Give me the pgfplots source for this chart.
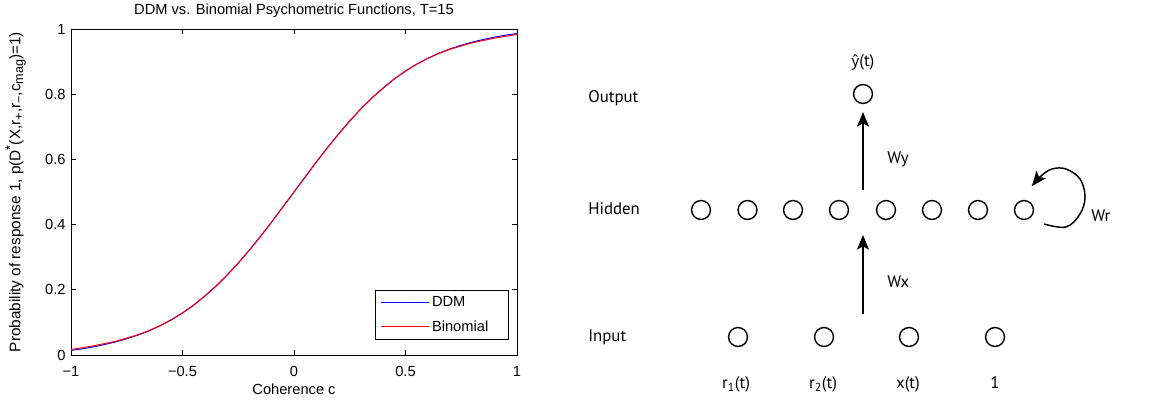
\documentclass[border=0pt]{standalone}
\usepackage{pgfplots}
\pgfplotsset{compat=1.18}
\usepackage{fontspec}
\setmainfont{Liberation Sans}
\newfontfamily\diag{PT Sans}
\newfontfamily\diagb{Open Sans}
\usetikzlibrary{arrows.meta}
\newcommand{\sub}[1]{\raisebox{-0.35ex}{\fontsize{9.5}{10}\selectfont #1}}
\newcommand{\sups}[1]{\raisebox{0.75ex}{\fontsize{9.5}{10}\selectfont #1}}
\tikzset{dtext/.style={font=\diag\fontsize{12.6}{14}\selectfont, inner sep=0pt}}

\begin{document}
\begin{tikzpicture}
\useasboundingbox (0pt,0pt) rectangle (867pt,301.5pt);
\begin{axis}[
  at={(53.25pt,35.25pt)}, anchor=south west,
  scale only axis, width=334.5pt, height=244.5pt,
  xmin=-1, xmax=1, ymin=0, ymax=1,
  xtick={-1,-0.5,0,0.5,1}, xticklabels={−1,−0.5,0,0.5,1},
  ytick={0,0.2,0.4,0.6,0.8,1}, yticklabels={0,0.2,0.4,0.6,0.8,1},
  tick align=inside, major tick length=3.5pt,
  tick style={black, line width=0.5pt},
  axis line style={black, line width=0.6pt},
  tick label style={font=\fontsize{11}{13}\selectfont},
  xticklabel style={anchor=base, yshift=-16.5pt},
  yticklabel style={anchor=east, xshift=-0.5pt},
  title={DDM vs. Binomial Psychometric Functions, T=15},
  title style={at={(axis description cs:0.5,1)}, anchor=base, yshift=5pt, font=\fontsize{11}{13}\selectfont},
  xlabel={Coherence c},
  xlabel style={at={(axis description cs:0.5,0)}, anchor=base, yshift=-29.5pt, font=\fontsize{11}{13}\selectfont},
  ylabel={Probability of response 1, p(D\sups{*}(X,r\sub{+},r\sub{−},c\sub{mag})=1)},
  ylabel style={at={(axis description cs:-0.124,0.5)}, anchor=center, font=\fontsize{11.5}{13}\selectfont},
  legend style={at={(axis description cs:0.982,0.199)}, anchor=north east,
    font=\fontsize{11}{13}\selectfont, row sep=5pt, inner xsep=3.5pt, inner ysep=2.5pt},
  legend cell align=left,
  legend image code/.code={\draw[#1, line width=0.75pt] (0pt,0pt) -- (36pt,0pt);},
]
\addplot[blue, line width=0.75pt] coordinates {
(-1.00,0.014) (-0.95,0.019) (-0.90,0.025) (-0.85,0.032) (-0.80,0.040) (-0.75,0.050)
(-0.70,0.061) (-0.65,0.074) (-0.60,0.090) (-0.55,0.108) (-0.50,0.129) (-0.45,0.153)
(-0.40,0.181) (-0.35,0.211) (-0.30,0.245) (-0.25,0.282) (-0.20,0.322) (-0.15,0.364)
(-0.10,0.408) (-0.05,0.454) (0.00,0.500) (0.05,0.546) (0.10,0.592) (0.15,0.636)
(0.20,0.678) (0.25,0.718) (0.30,0.755) (0.35,0.789) (0.40,0.819) (0.45,0.847)
(0.50,0.871) (0.55,0.892) (0.60,0.910) (0.65,0.926) (0.70,0.939) (0.75,0.950)
(0.80,0.960) (0.85,0.968) (0.90,0.975) (0.95,0.981) (1.00,0.986)};
\addlegendentry{\makebox[52pt][l]{DDM}}
\addplot[red, line width=0.75pt] coordinates {
(-1.00,0.017) (-0.95,0.022) (-0.90,0.028) (-0.85,0.035) (-0.80,0.042) (-0.75,0.052)
(-0.70,0.062) (-0.65,0.075) (-0.60,0.090) (-0.55,0.108) (-0.50,0.129) (-0.45,0.153)
(-0.40,0.181) (-0.35,0.211) (-0.30,0.245) (-0.25,0.282) (-0.20,0.322) (-0.15,0.364)
(-0.10,0.408) (-0.05,0.454) (0.00,0.500) (0.05,0.546) (0.10,0.592) (0.15,0.636)
(0.20,0.678) (0.25,0.718) (0.30,0.755) (0.35,0.789) (0.40,0.819) (0.45,0.847)
(0.50,0.871) (0.55,0.892) (0.60,0.910) (0.65,0.925) (0.70,0.938) (0.75,0.948)
(0.80,0.958) (0.85,0.965) (0.90,0.972) (0.95,0.978) (1.00,0.983)};
\addlegendentry{\makebox[52pt][l]{Binomial}}
\end{axis}

\begin{axis}[
  at={(0pt,0pt)}, anchor=south west,
  scale only axis, width=867pt, height=301.5pt,
  xmin=0, xmax=1156, ymin=-402, ymax=0,
  hide axis, clip=false,
]
% circles
\addplot[only marks, mark=o, mark size=7.1pt, mark options={black, line width=1.05pt}] coordinates {
(863,-94)
(701,-210) (747.5,-210) (793,-210) (839,-210) (886,-210) (932,-210) (978,-210) (1024,-210)
(738,-337) (824,-337) (909,-337) (995,-337)};
% arrows
\addplot[black, line width=1.1pt, -{Stealth[length=11pt,width=9pt,inset=2.5pt]}] coordinates {(863,-190) (863,-112)};
\addplot[black, line width=1.1pt, -{Stealth[length=11pt,width=9pt,inset=2.5pt]}] coordinates {(863,-314) (863,-235)};
\addplot[black, line width=1.1pt, smooth, tension=0.6, -{Stealth[length=11pt,width=9pt,inset=2.5pt]}] coordinates {
(1044,-224) (1066,-227) (1080,-214) (1085,-197) (1080,-179) (1066,-169) (1052,-169) (1041,-176) (1032,-186)};
% texts
\node[dtext, anchor=base] at (axis cs:863,-67) {{\diagb\fontsize{11.5}{14}\selectfont ŷ}(t)};
\node[dtext, anchor=base west] at (axis cs:588,-103) {Output};
\node[dtext, anchor=base west] at (axis cs:588,-215) {Hidden};
\node[dtext, anchor=base west] at (axis cs:588,-342) {Input};
\node[dtext, anchor=base west] at (axis cs:887,-164) {Wy};
\node[dtext, anchor=base west] at (axis cs:887,-288) {Wx};
\node[dtext, anchor=base west] at (axis cs:1091,-222) {Wr};
\node[dtext, anchor=base] at (axis cs:736,-389) {r\textsubscript{1}(t)};
\node[dtext, anchor=base] at (axis cs:823,-389) {r\textsubscript{2}(t)};
\node[dtext, anchor=base] at (axis cs:908,-389) {x(t)};
\node[dtext, anchor=base] at (axis cs:995,-389) {1};
\end{axis}
\end{tikzpicture}
\end{document}
